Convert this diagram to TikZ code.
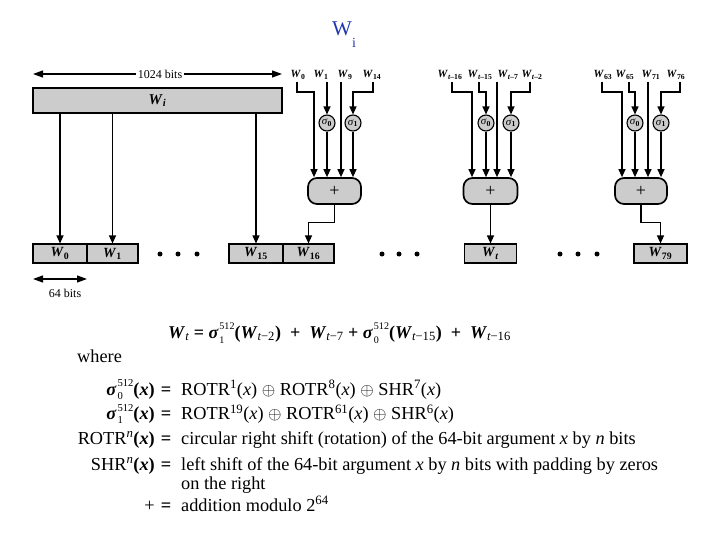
\documentclass[tikz,border=0pt]{standalone}
\usepackage{amsmath}
\usepackage{fontspec}
\setmainfont{Liberation Serif}
\usetikzlibrary{arrows.meta}
\definecolor{boxgray}{gray}{0.80}
\definecolor{titleblue}{rgb}{0.12,0.22,0.70}
\newcommand{\bw}{\textbf{\textit{W}}}
\newcommand{\bsig}{\textbf{\textit{σ}}\kern0.8pt}
\newcommand{\supsub}[2]{\rlap{\raisebox{-0.24em}{\fontsize{0.58em}{0.58em}\selectfont #2}}\raisebox{0.44em}{\fontsize{0.58em}{0.58em}\selectfont #1}}
\newcommand{\supsubeq}[2]{\rlap{\raisebox{-0.28em}{\fontsize{0.56em}{0.56em}\selectfont #2}}\raisebox{0.48em}{\fontsize{0.56em}{0.56em}\selectfont #1}}
\tikzset{
 ln/.style={line width=1.2pt},
 arr/.style={ln, -{Triangle[length=8pt,width=7pt]}},
 dimarrow/.style={ln, {Triangle[length=10pt,width=7pt]}-{Triangle[length=10pt,width=7pt]}},
 wbox/.style={draw, fill=boxgray, line width=1.1pt, minimum height=19pt, inner sep=0pt, font=\fontsize{14}{14}\selectfont},
 plusbox/.style={draw, fill=boxgray, line width=1.7pt, rounded corners=9pt, minimum height=26pt, inner sep=0pt, font=\fontsize{18}{18}\selectfont},
 sig/.style={circle, draw, fill=boxgray, line width=1.1pt, minimum size=16pt, inner sep=0pt, font=\fontsize{11}{11}\selectfont},
 toplbl/.style={font=\fontsize{11}{11}\selectfont, inner sep=0pt, anchor=base},
 bigdot/.style={circle, fill=black, inner sep=0pt, minimum size=5pt},
 deftext/.style={font=\fontsize{18.3}{18.3}\selectfont, inner sep=0pt},
 smalltext/.style={font=\fontsize{12}{12}\selectfont},
}
\begin{document}
\begin{tikzpicture}[x=1pt,y=-1pt]
\useasboundingbox (0,0) rectangle (720,540);
% title
\node[font=\fontsize{21}{21}\selectfont, text=titleblue, anchor=base west, inner sep=0pt] (title) at (332,36) {W\raisebox{-12pt}{\fontsize{14}{14}\selectfont i}};
% message block
\node[draw, fill=boxgray, line width=1.1pt, minimum width=249pt, minimum height=25pt, inner sep=0pt, font=\fontsize{15}{15}\selectfont] (M) at (157.5,100.5) {\bw$_{\textbf{\textit{i}}}$};
\coordinate (dl) at (33,74);
\coordinate (dr) at (282,74);
\draw[dimarrow] (dl) -- (dr);
\node[smalltext, fill=white, inner sep=2pt] (kb) at (160,74) {1024 bits};
% word boxes
\node[wbox, minimum width=54pt] (b0) at (60,253.5) {\bw$_{\textbf{0}}$};
\node[wbox, minimum width=51pt] (b1) at (112.5,253.5) {\bw$_{\textbf{1}}$};
\node[wbox, minimum width=54pt] (b15) at (256,253.5) {\bw$_{\textbf{15}}$};
\node[wbox, minimum width=51pt] (b16) at (308.5,253.5) {\bw$_{\textbf{16}}$};
\node[wbox, minimum width=52pt] (bt) at (490.5,253.5) {\bw$_{\textbf{\textit{t}}}$};
\node[wbox, minimum width=53pt] (b79) at (660.5,253.5) {\bw$_{\textbf{79}}$};
\draw[arr] (M.south -| b0.north) -- (b0.north);
\draw[arr] (M.south -| b1.north) -- (b1.north);
\draw[arr] (M.south -| b15.north) -- (b15.north);
% dots
\node[bigdot] (d1) at (160,254) {};
\node[bigdot] (d2) at (178,254) {};
\node[bigdot] (d3) at (197,254) {};
\node[bigdot] (d4) at (382,254) {};
\node[bigdot] (d5) at (399,254) {};
\node[bigdot] (d6) at (417,254) {};
\node[bigdot] (d7) at (560,254) {};
\node[bigdot] (d8) at (578,254) {};
\node[bigdot] (d9) at (597,254) {};
% 64 bits
\coordinate (sa) at (33,279);
\coordinate (sb) at (87,279);
\draw[dimarrow] (sa) -- (sb);
\node[smalltext, inner sep=0pt] (k64) at (65,293) {64 bits};
% ---------- group 1
\node[plusbox, minimum width=53pt] (p1) at (334.5,191) {+};
\node[sig] (s01) at (327,123) {\textit{σ}$_{\textbf{0}}$};
\node[sig] (s11) at (353,123) {\textit{σ}$_{\textbf{1}}$};
\node[toplbl] (l11) at (298,78) {\bw$_{\textbf{0}}$};
\node[toplbl] (l12) at (321,78) {\bw$_{\textbf{1}}$};
\node[toplbl] (l13) at (345,78) {\bw$_{\textbf{9}}$};
\node[toplbl] (l14) at (372,78) {\bw$_{\textbf{14}}$};
\coordinate (a11) at (297,82);
\coordinate (a12) at (327,82);
\coordinate (a13) at (341,82);
\coordinate (a14) at (373,82);
\draw[arr] (a11) -- ++(0,10) -| ([xshift=-20.5pt]p1.north);
\draw[arr] (a12) -- (s01.north);
\draw[arr] (s01.south) -- (s01.south |- p1.north);
\draw[arr] (a13) -- (a13 |- p1.north);
\draw[arr] (a14) -- ++(0,10) -| (s11.north);
\draw[arr] (s11.south) -- (s11.south |- p1.north);
\draw[arr] (p1.south) -- ++(0,18) -| (b16.north);
% ---------- group 2
\node[plusbox, minimum width=54pt] (p2) at (490.5,191) {+};
\node[sig] (s02) at (486,123) {\textit{σ}$_{\textbf{0}}$};
\node[sig] (s12) at (511,123) {\textit{σ}$_{\textbf{1}}$};
\node[toplbl] (l21) at (450,78) {\bw$_{\textbf{\textit{t}–16}}$};
\node[toplbl] (l22) at (480,78) {\bw$_{\textbf{\textit{t}–15}}$};
\node[toplbl] (l23) at (508,78) {\bw$_{\textbf{\textit{t}–7}}$};
\node[toplbl] (l24) at (532,78) {\bw$_{\textbf{\textit{t}–2}}$};
\coordinate (a21) at (452,82);
\coordinate (a22) at (479,82);
\coordinate (a23) at (497,82);
\coordinate (a24) at (530,82);
\draw[arr] (a21) -- ++(0,10) -| ([xshift=-18.5pt]p2.north);
\draw[arr] (a22) -- ++(0,10) -| (s02.north);
\draw[arr] (s02.south) -- (s02.south |- p2.north);
\draw[arr] (a23) -- (a23 |- p2.north);
\draw[arr] (a24) -- ++(0,10) -| (s12.north);
\draw[arr] (s12.south) -- (s12.south |- p2.north);
\draw[arr] (p2.south) -- (bt.north);
% ---------- group 3
\node[plusbox, minimum width=52pt] (p3) at (641,191) {+};
\node[sig] (s03) at (635,123) {\textit{σ}$_{\textbf{0}}$};
\node[sig] (s13) at (661,123) {\textit{σ}$_{\textbf{1}}$};
\node[toplbl] (l31) at (603,78) {\bw$_{\textbf{63}}$};
\node[toplbl] (l32) at (625,78) {\bw$_{\textbf{65}}$};
\node[toplbl] (l33) at (651,78) {\bw$_{\textbf{71}}$};
\node[toplbl] (l34) at (676,78) {\bw$_{\textbf{76}}$};
\coordinate (a31) at (602,82);
\coordinate (a32) at (629,82);
\coordinate (a33) at (648,82);
\coordinate (a34) at (680,82);
\draw[arr] (a31) -- ++(0,10) -| ([xshift=-19pt]p3.north);
\draw[arr] (a32) -- ++(0,10) -| (s03.north);
\draw[arr] (s03.south) -- (s03.south |- p3.north);
\draw[arr] (a33) -- (a33 |- p3.north);
\draw[arr] (a34) -- ++(0,10) -| (s13.north);
\draw[arr] (s13.south) -- (s13.south |- p3.north);
\draw[arr] (p3.south) -- ++(0,18) -| (b79.north);
% ---------- equation
\node[font=\fontsize{18}{18}\selectfont, anchor=base west, inner sep=0pt] (eq) at (168,338) {\bw$_{\textit{t}}$\ \textbf{=}\ \bsig\supsubeq{512}{1}\textbf{(}\bw$_{\textit{t}\text{−2}}$\textbf{)} \ \textbf{+} \ \bw$_{\textit{t}\text{−7}}$\ \textbf{+}\ \bsig\supsubeq{512}{0}\textbf{(}\bw$_{\textit{t}\text{−15}}$\textbf{)} \ \textbf{+} \ \bw$_{\textit{t}\text{−16}}$};
% ---------- definitions
\node[deftext, anchor=base west] (where) at (77,362) {where};
\node[deftext, anchor=base east] (L1) at (155,395) {\bsig\supsub{512}{0}\textbf{(\textit{x})}};
\node[deftext, anchor=base] (E1) at (166,395) {\textbf{=}};
\node[deftext, anchor=base west] (R1) at (181,395) {ROTR$^{\text{1}}$(\textit{x}) $\oplus$ ROTR$^{\text{8}}$(\textit{x}) $\oplus$ SHR$^{\text{7}}$(\textit{x})};
\node[deftext, anchor=base east] (L2) at (155,419.5) {\bsig\supsub{512}{1}\textbf{(\textit{x})}};
\node[deftext, anchor=base] (E2) at (166,419.5) {\textbf{=}};
\node[deftext, anchor=base west] (R2) at (181,419.5) {ROTR$^{\text{19}}$(\textit{x}) $\oplus$ ROTR$^{\text{61}}$(\textit{x}) $\oplus$ SHR$^{\text{6}}$(\textit{x})};
\node[deftext, anchor=base east] (L3) at (155,444) {ROTR$^{\textit{n}}$\textbf{(\textit{x})}};
\node[deftext, anchor=base] (E3) at (166,444) {\textbf{=}};
\node[deftext, anchor=base west] (R3) at (181,444) {circular right shift (rotation) of the 64-bit argument \textit{x} by \textit{n} bits};
\node[deftext, anchor=base east] (L4) at (155,470) {SHR$^{\textit{n}}$\textbf{(\textit{x})}};
\node[deftext, anchor=base] (E4) at (166,470) {\textbf{=}};
\node[deftext, anchor=base west] (R4) at (181,470) {left shift of the 64-bit argument \textit{x} by \textit{n} bits with padding by zeros};
\node[deftext, anchor=base west] (R5) at (181,489) {on the right};
\node[deftext, anchor=base east] (L6) at (155,511) {+};
\node[deftext, anchor=base] (E6) at (166,511) {\textbf{=}};
\node[deftext, anchor=base west] (R6) at (181,511) {addition modulo 2$^{\text{64}}$};
\end{tikzpicture}
\end{document}
